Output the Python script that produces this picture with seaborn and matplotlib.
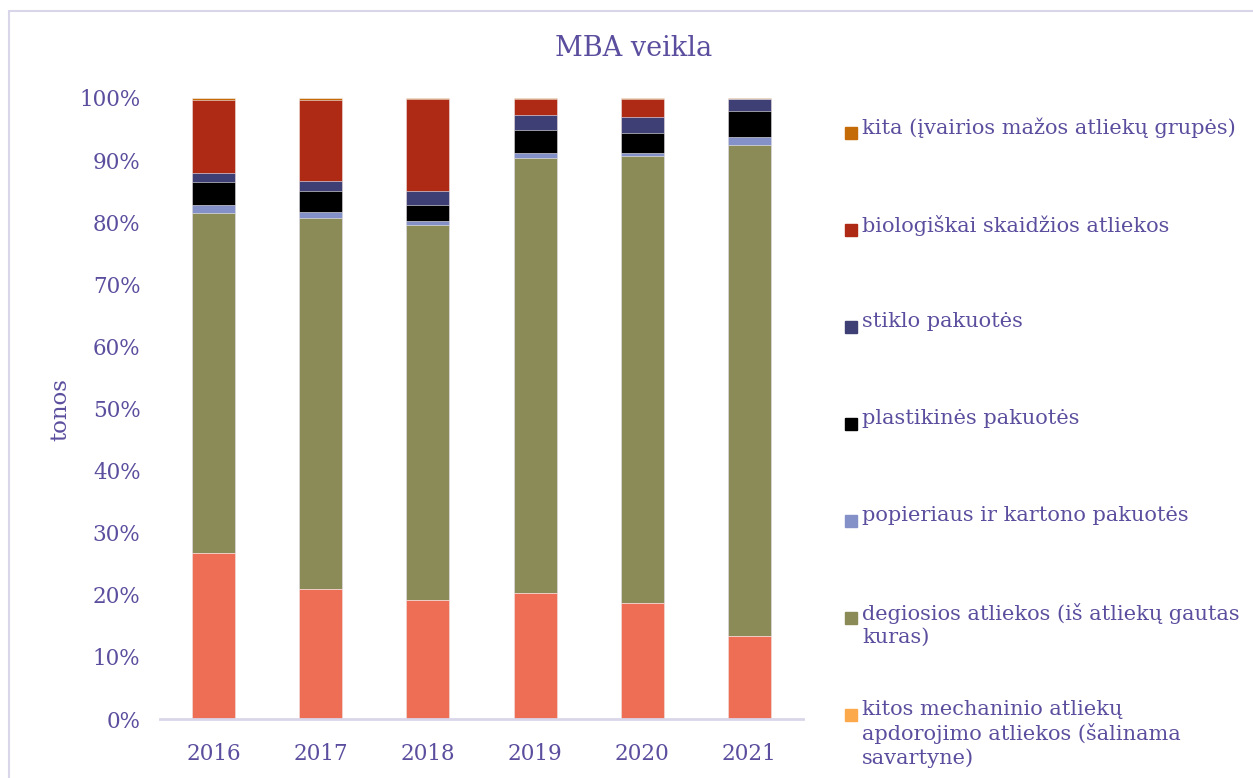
import numpy as np
import pandas as pd
import matplotlib
matplotlib.use('Agg')
import matplotlib.pyplot as plt
from matplotlib.patches import Rectangle
import seaborn as sns

# metai
years = ['2016', '2017', '2018', '2019', '2020', '2021']

# dalys (%) kiekvienai atliekų grupei, nuo apačios į viršų
salmon = [26.7, 20.9, 19.2, 20.3, 18.7, 13.4]
kitos_mech = [0.0, 0.0, 0.0, 0.0, 0.0, 0.0]
degiosios = [54.8, 59.7, 60.3, 70.0, 72.0, 79.1]
popieriaus = [1.2, 1.0, 0.7, 0.9, 0.4, 1.3]
plastikines = [3.7, 3.4, 2.6, 3.7, 3.3, 4.1]
stiklo = [1.6, 1.6, 2.2, 2.4, 2.5, 2.0]
biologiskai = [11.7, 13.0, 14.9, 2.6, 3.0, 0.0]
kita = [0.3, 0.4, 0.1, 0.1, 0.1, 0.1]

labels = ['',
          'kitos mechaninio atliekų\napdorojimo atliekos (šalinama\nsavartyne)',
          'degiosios atliekos (iš atliekų gautas\nkuras)',
          'popieriaus ir kartono pakuotės',
          'plastikinės pakuotės',
          'stiklo pakuotės',
          'biologiškai skaidžios atliekos',
          'kita (įvairios mažos atliekų grupės)']
colors = ['#EE6E55', '#FBA94A', '#8A8B57', '#8490C8', '#000000', '#3E3F75', '#AF2A14', '#C46A06']
series = [salmon, kitos_mech, degiosios, popieriaus, plastikines, stiklo, biologiskai, kita]

txt = '#5B4E9E'
sns.set_style('white')
plt.rcParams['font.family'] = ['DejaVu Serif']

fig = plt.figure(figsize=(12.53, 7.78), dpi=100)
ax = fig.add_axes([160 / 1253, 1 - 719 / 778, 643 / 1253, 621 / 778])

# 100% normalizavimas ir kaupiamos sumos
data = np.array(series, dtype=float)
data = data / data.sum(axis=0)
cum = np.cumsum(data, axis=0)

# piešiame nuo viršaus žemyn, kad susidarytų sukrauti stulpeliai
for i in range(len(series) - 1, -1, -1):
    df = pd.DataFrame({'year': years, 'val': cum[i]})
    sns.barplot(data=df, x='year', y='val', color=colors[i], width=0.4,
                saturation=1, edgecolor='#F4F2F8', linewidth=0.4, ax=ax)

ax.set_ylim(0, 1)
ax.set_xlim(-0.5, 5.5)
ax.set_yticks(np.arange(0, 1.01, 0.1))
ax.set_yticklabels([f'{int(round(v * 100))}%' for v in np.arange(0, 1.01, 0.1)])
ax.tick_params(axis='both', colors=txt, labelsize=15.5, length=0)
ax.tick_params(axis='y', pad=14)
ax.tick_params(axis='x', pad=17)
for s in ['top', 'right', 'left']:
    ax.spines[s].set_visible(False)
ax.spines['bottom'].set_color('#D9D6EA')
ax.spines['bottom'].set_linewidth(2)
ax.set_xlabel('')
ax.set_ylabel('')

fig.text(60 / 1253, 1 - 410 / 778, 'tonos', rotation=90, color=txt, fontsize=16.5,
         ha='center', va='center')
fig.text(634 / 1253, 1 - 48 / 778, 'MBA veikla', color=txt, fontsize=19.5,
         ha='center', va='center')

# legenda (atvirkštine tvarka)
ys = [133, 230, 327, 424, 521, 618, 715]
for k, y in enumerate(ys):
    i = len(series) - 1 - k
    fig.patches.append(Rectangle((845 / 1253, 1 - (y + 6) / 778), 12 / 1253, 12 / 778,
                                 transform=fig.transFigure, color=colors[i]))
    fig.text(862 / 1253, 1 - (y - 15) / 778, labels[i], color=txt, fontsize=15,
             ha='left', va='top', linespacing=1.25)

# rėmelis
fig.patches.append(Rectangle((8.5 / 1253, -0.05), 1.1, 1 - 11 / 778 + 0.05,
                             transform=fig.transFigure, fill=False,
                             edgecolor='#DAD6EA', linewidth=1.5))

fig.savefig('out.png', dpi=100)
